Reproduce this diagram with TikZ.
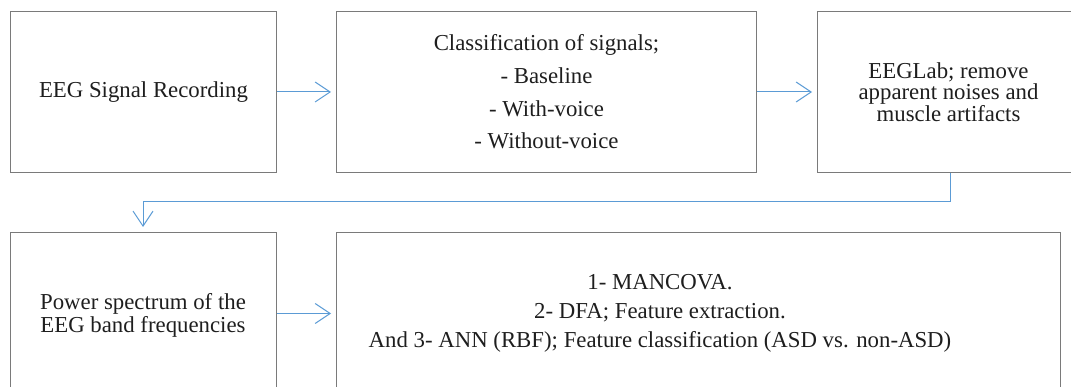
\documentclass[tikz,border=0pt]{standalone}
\usepackage{fontspec}
\setmainfont{Liberation Serif}
\usetikzlibrary{arrows.meta}
\definecolor{boxgray}{HTML}{7A7A7A}
\definecolor{arrowblue}{HTML}{5B9BD5}
\definecolor{txt}{HTML}{1E1E1E}
\begin{document}
\begin{tikzpicture}[x=1pt,y=1pt,
  box/.style={draw=boxgray, line width=1pt, anchor=north west, inner sep=0pt, align=center, text=txt},
  label/.style={inner sep=0pt, align=center, text=txt},
  flow/.style={draw=arrowblue, line width=1pt, -{Straight Barb[length=15pt,width=20pt,line width=1pt]}, shorten >=5pt}
]
\useasboundingbox (0,0) rectangle (1071,-387);
\clip (0,0) rectangle (1071,-387);
\node[box, minimum width=266pt, minimum height=161pt, font=\fontsize{22.8}{26}\selectfont] (b1) at (10,-11) {EEG Signal Recording};
\node[box, minimum width=420pt, minimum height=161pt, font=\fontsize{22.8}{32.7}\selectfont] (b2) at (336,-11) {Classification of signals;\\- Baseline\\- With-voice\\- Without-voice};
\node[box, minimum width=262pt, minimum height=161pt, font=\fontsize{22.8}{21.7}\selectfont] (b3) at (817,-11) {EEGLab; remove\\apparent noises and\\muscle artifacts};
\node[box, minimum width=266pt, minimum height=162pt] (b4) at (10,-232) {};
\node[label, font=\fontsize{22.8}{23}\selectfont] (t4) at (143,-315) {Power spectrum of the\\EEG band frequencies};
\node[box, minimum width=724pt, minimum height=162pt] (b5) at (336,-232) {};
\node[label, font=\fontsize{22.8}{29}\selectfont] (t5) at (660,-313) {1- MANCOVA.\\2- DFA; Feature extraction.\\And 3- ANN (RBF); Feature classification (ASD vs. non-ASD)};
\coordinate (c1) at (950,-202);
\coordinate (c2) at (143,-202);
\draw[flow] (b1.east) -- (b2.west);
\draw[flow] (b2.east) -- (b3.west);
\draw[flow] (b3.south -| c1) -- (c1) -- (c2) -- (b4.north -| c2);
\draw[flow] (b4.east) -- (b5.west |- b4.east);
\end{tikzpicture}
\end{document}
